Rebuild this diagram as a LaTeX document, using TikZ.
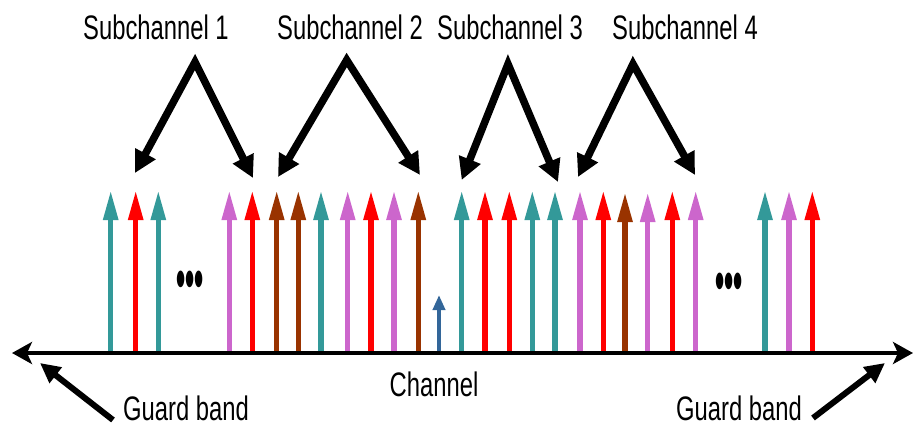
\documentclass[tikz,border=0pt]{standalone}
\usepackage{fontspec}
\setmainfont{Liberation Sans}
\newfontfamily\narrowfont[FakeStretch=0.7]{Liberation Sans}
\newfontfamily\dotfont[FakeStretch=0.45]{Liberation Sans}
\usetikzlibrary{arrows.meta}
\definecolor{cteal}{RGB}{51,153,153}
\definecolor{cred}{RGB}{255,0,0}
\definecolor{cviolet}{RGB}{204,102,204}
\definecolor{cbrown}{RGB}{153,51,0}
\definecolor{cblue}{RGB}{51,102,153}
\begin{document}
\begin{tikzpicture}[x=1pt,y=-1pt,
  lbl/.style={inner sep=0pt,font=\narrowfont\fontsize{34}{36}\selectfont},
  dots/.style={inner sep=0pt,font=\dotfont\bfseries\fontsize{58}{60}\selectfont},
  carrier/.style={line width=5.5pt,-{Triangle[length=30pt,width=14pt]}},
  bigarrow/.style={line width=7.5pt,{Triangle[length=22pt,width=22pt]}-{Triangle[length=22pt,width=22pt]}},
  guard/.style={line width=6pt,-{Triangle[length=20pt,width=19pt]}},
  axis/.style={line width=4pt,{Stealth[length=20pt,width=22pt,inset=5pt]}-{Stealth[length=20pt,width=22pt,inset=5pt]}}]
\useasboundingbox (0,0) rectangle (915,428);

% labels
\node[lbl] (s1) at (156,27) {Subchannel 1};
\node[lbl] (s2) at (350,27) {Subchannel 2};
\node[lbl] (s3) at (510,27) {Subchannel 3};
\node[lbl] (s4) at (685,27) {Subchannel 4};
\node[lbl] (ch) at (434,384) {Channel};
\node[lbl] (gl) at (186,408) {Guard band};
\node[lbl] (gr) at (739,408) {Guard band};
\node[dots] (d1) at (190,285) {•••};
\node[dots] (d2) at (729,287) {•••};

% subcarriers
\foreach \x/\c/\t [count=\i] in {
  110.7/cteal/190, 135.7/cred/190, 158.3/cteal/190, 229.3/cviolet/190,
  252.3/cred/190, 276.7/cbrown/190, 298.3/cbrown/190, 321/cteal/190,
  347.7/cviolet/190, 371/cred/190, 394/cviolet/190, 418.3/cbrown/190,
  461.7/cteal/190, 485/cred/190, 509.3/cred/190, 532.3/cteal/190,
  555/cteal/190, 580/cviolet/190, 603.3/cred/190, 625/cbrown/192,
  647.7/cviolet/192, 672.3/cred/190, 695.7/cviolet/190, 765/cteal/190,
  789/cviolet/190, 812.3/cred/190}{
  \coordinate (b\i) at (\x,353);
  \coordinate (t\i) at (\x,\t);
  \draw[carrier,draw=\c,fill=\c] (b\i) -- (t\i);
}
\coordinate (bb) at (439,353);
\coordinate (bt) at (439,295);
\draw[line width=4.5pt,cblue,-{Triangle[length=15pt,width=12pt]}] (bb) -- (bt);

% axis
\coordinate (axl) at (12,353);
\coordinate (axr) at (913,353);
\draw[axis] (axl) -- (axr);

% subchannel arrows
\coordinate (a1) at (195,62);   \coordinate (l1) at (135,173); \coordinate (r1) at (253,178);
\coordinate (a2) at (346.7,60); \coordinate (l2) at (278,177); \coordinate (r2) at (420,175);
\coordinate (a3) at (508,64);   \coordinate (l3) at (461.7,180); \coordinate (r3) at (558,182);
\coordinate (a4) at (633,64);   \coordinate (l4) at (578,177); \coordinate (r4) at (695,175);
\foreach \k in {1,2,3,4}{
  \draw[bigarrow] (l\k) -- (a\k) -- (r\k);
}

% guard band arrows
\coordinate (gls) at (113,420); \coordinate (glt) at (40,363);
\coordinate (grs) at (813,418); \coordinate (grt) at (885,363);
\draw[guard] (gls) -- (glt);
\draw[guard] (grs) -- (grt);
\end{tikzpicture}
\end{document}
